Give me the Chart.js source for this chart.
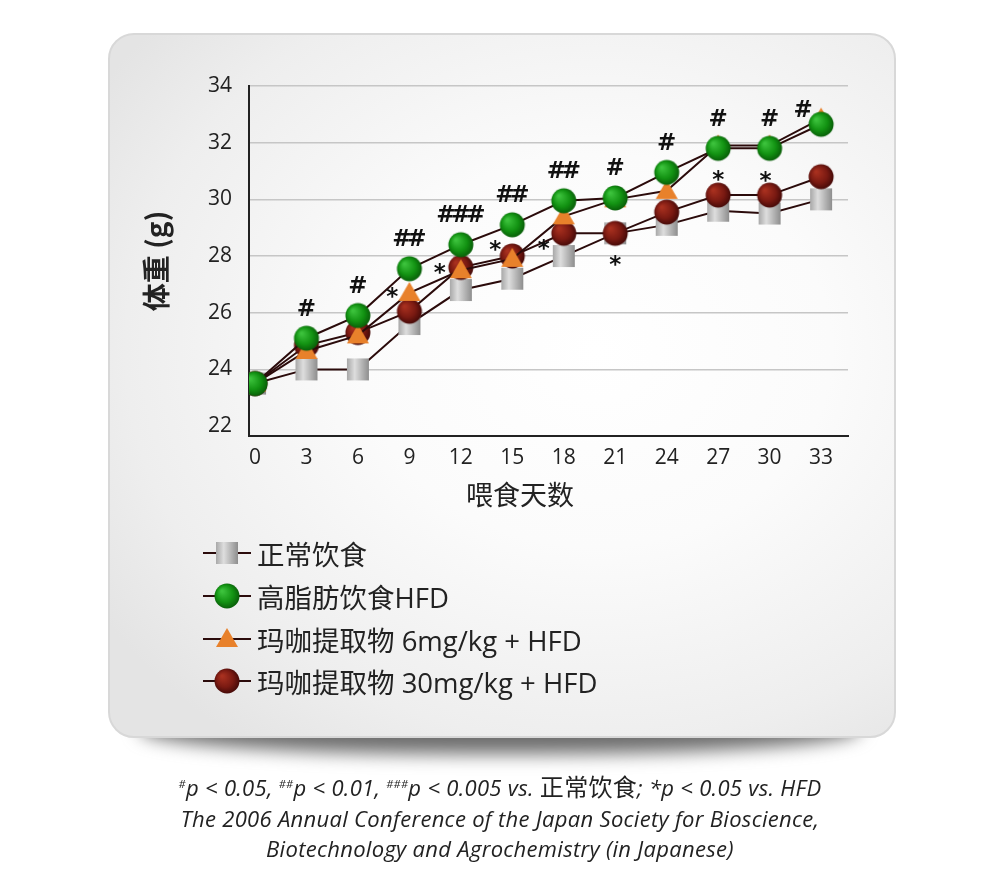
<!DOCTYPE html>
<html>
<head>
<meta charset="utf-8">
<script src="https://cdn.jsdelivr.net/npm/chart.js@4.4.1/dist/chart.umd.min.js"></script>
<style>
  html, body { margin:0; padding:0; background:#fff; width:1000px; height:891px; overflow:hidden; }
  #shadow { position:absolute; left:140px; top:700px; width:720px; height:54px; background:#6e6e6e; border-radius:45%; filter:blur(9px); }
  #card { position:absolute; left:108px; top:33px; width:784px; height:701px; border:2px solid #d8d8d8; border-radius:26px;
          background: radial-gradient(ellipse 75% 70% at 62% 45%, #ffffff 0%, #fbfbfb 40%, #eeeeee 80%, #e4e4e4 100%); }
  #wrap { position:absolute; left:0; top:0; width:1000px; height:891px; }
  #legend { position:absolute; left:203px; top:532px; font-family:"Open Sans","Noto Sans CJK SC",sans-serif; font-size:27.5px; color:#222; }
  .row { display:flex; align-items:center; height:42.7px; white-space:nowrap; }
  .row canvas { width:48px; height:28px; margin-right:6px; }
  #note { position:absolute; left:0; width:1000px; top:769px; text-align:center; font-family:"Open Sans",sans-serif; font-style:italic; font-size:22px; letter-spacing:0.3px; line-height:30.5px; color:#222; }
  #note sup { font-size:11px; vertical-align:8px; }
  #note .cjk { font-family:"Noto Sans CJK SC",sans-serif; font-style:normal; font-size:24px; }
</style>
</head>
<body>
<div id="shadow"></div>
<div id="card"></div>
<div id="wrap"><canvas id="c"></canvas></div>
<div id="legend"></div>
<div id="note">
  <div><sup>#</sup>p &lt; 0.05, <sup>##</sup>p &lt; 0.01, <sup>###</sup>p &lt; 0.005 vs. <span class="cjk">正常饮食</span>; *p &lt; 0.05 vs. HFD</div>
  <div>The 2006 Annual Conference of the Japan Society for Bioscience,</div>
  <div>Biotechnology and Agrochemistry (in Japanese)</div>
</div>
<script>
// ---------- data ----------
const days = [0, 3, 6, 9, 12, 15, 18, 21, 24, 27, 30, 33];
const xTickValues = [0, 3, 6, 9, 12, 15, 18, 21, 24, 27, 30, 33];
const yTickValues = [22, 24, 26, 28, 30, 32, 34];
const seriesNames = ['正常饮食', '高脂肪饮食HFD', '玛咖提取物 6mg/kg + HFD', '玛咖提取物 30mg/kg + HFD'];
const normalDiet = [23.5, 24.0, 24.0, 25.6, 26.8, 27.2, 28.0, 28.8, 29.1, 29.6, 29.5, 30.0];
const hfdDiet    = [23.5, 25.1, 25.9, 27.55, 28.4, 29.1, 29.95, 30.05, 30.95, 31.8, 31.8, 32.65];
const maca6      = [23.5, 24.65, 25.2, 26.7, 27.5, 27.9, 29.4, 30.0, 30.3, 31.9, 31.9, 32.85];
const maca30     = [23.5, 24.85, 25.3, 26.05, 27.6, 28.0, 28.8, 28.8, 29.55, 30.15, 30.15, 30.8];
const hashMarks  = ['', '#', '#', '##', '###', '##', '##', '#', '#', '#', '#', '#'];
const starMarks  = ['', '', '', '*', '*', '*', '*', '*', '', '*', '*', ''];
const xTitle = '喂食天数';
const yTitle = '体重 (g)';

// ---------- marker images ----------
const LINE = '#2b0b0b';
function drawMarker(ctx, kind, cx, cy) {
  ctx.save();
  if (kind === 'square') {
    const s = 22, x = cx - s/2, y = cy - s/2;
    const g = ctx.createLinearGradient(x, 0, x + s, 0);
    g.addColorStop(0, '#a8a8a8'); g.addColorStop(0.35, '#dedede'); g.addColorStop(1, '#8e8e8e');
    ctx.fillStyle = g; ctx.fillRect(x, y, s, s);
  } else if (kind === 'green' || kind === 'maroon') {
    const r = 12.5;
    const g = ctx.createRadialGradient(cx - 5, cy - 5, 1, cx, cy, r + 2);
    if (kind === 'green') { g.addColorStop(0, '#3cc23c'); g.addColorStop(0.55, '#129212'); g.addColorStop(1, '#064f06'); }
    else { g.addColorStop(0, '#a8301f'); g.addColorStop(0.55, '#7a1a12'); g.addColorStop(1, '#360505'); }
    ctx.fillStyle = g; ctx.beginPath(); ctx.arc(cx, cy, r, 0, Math.PI * 2); ctx.fill();
  } else if (kind === 'triangle') {
    ctx.fillStyle = '#e8812b';
    ctx.beginPath(); ctx.moveTo(cx, cy - 11); ctx.lineTo(cx + 11, cy + 8); ctx.lineTo(cx - 11, cy + 8); ctx.closePath(); ctx.fill();
  }
  ctx.restore();
}
function markerCanvas(kind) {
  const c = document.createElement('canvas'); c.width = 28; c.height = 28;
  drawMarker(c.getContext('2d'), kind, 14, 14);
  return c;
}
const kinds = ['square', 'green', 'triangle', 'maroon'];
const markers = kinds.map(markerCanvas);

// ---------- HTML legend ----------
const legend = document.getElementById('legend');
seriesNames.forEach((name, i) => {
  const row = document.createElement('div'); row.className = 'row';
  const c = document.createElement('canvas'); c.width = 48; c.height = 28;
  const ctx = c.getContext('2d');
  ctx.strokeStyle = LINE; ctx.lineWidth = 2;
  ctx.beginPath(); ctx.moveTo(0, 14); ctx.lineTo(48, 14); ctx.stroke();
  drawMarker(ctx, kinds[i], 24, 14);
  const s = document.createElement('span'); s.textContent = name;
  row.appendChild(c); row.appendChild(s); legend.appendChild(row);
});

// ---------- annotation plugin ----------
function drawSpaced(ctx, text, cx, y, adv) {
  const n = text.length;
  for (let k = 0; k < n; k++) ctx.fillText(text[k], cx + (k - (n - 1) / 2) * adv, y);
}
const annotate = {
  id: 'annotate',
  afterDatasetsDraw(chart) {
    const ctx = chart.ctx;
    ctx.save();
    ctx.fillStyle = '#111';
    ctx.font = 'bold 23px "DejaVu Sans", sans-serif';
    ctx.textAlign = 'center';
    ctx.textBaseline = 'alphabetic';
    const hfdMeta = chart.getDatasetMeta(1).data;
    hashMarks.forEach((m, i) => {
      if (!m) return;
      const p = hfdMeta[i];
      const last = i === hashMarks.length - 1;
      drawSpaced(ctx, m, p.x + (last ? -18 : 0), p.y + (last ? -16 : -31) + 8.5, 15);
    });
    const starOff = {3: [-17, -20], 4: [-21, 0], 5: [-17, -12], 6: [-20, 10], 7: [0, 26], 9: [0, -21], 10: [-4, -20]};
    const m30 = chart.getDatasetMeta(3).data;
    starMarks.forEach((m, i) => {
      if (!m) return;
      const p = m30[i]; const o = starOff[i] || [0, -22];
      ctx.fillText(m, p.x + o[0], p.y + o[1] + 13);
    });
    // x-axis title
    const xs = chart.scales.x;
    ctx.font = '27px "Noto Sans CJK SC", sans-serif';
    ctx.fillStyle = '#222';
    ctx.textBaseline = 'middle';
    ctx.fillText(xs.options.title.text, 520, 495);
    ctx.restore();
  }
};

// ---------- chart ----------
const mk = (label, data, idx, order) => ({
  label, data: days.map((d, i) => ({x: d, y: data[i]})),
  borderColor: LINE, borderWidth: 2, tension: 0,
  pointStyle: markers[idx], pointRadius: 12, pointHoverRadius: 12, order
});

new Chart(document.getElementById('c'), {
  type: 'line',
  data: {
    datasets: [
      mk(seriesNames[0], normalDiet, 0, 4),
      mk(seriesNames[1], hfdDiet, 1, 1),
      mk(seriesNames[2], maca6, 2, 2),
      mk(seriesNames[3], maca30, 3, 3)
    ]
  },
  options: {
    responsive: true, maintainAspectRatio: false, animation: false, events: [],
    layout: { padding: { left: 140, top: 86, right: 152, bottom: 415 } },
    plugins: { legend: { display: false }, tooltip: { enabled: false } },
    scales: {
      x: {
        type: 'linear', min: -0.35, max: 34.57,
        afterBuildTicks: (ax) => { ax.ticks = xTickValues.map(v => ({value: v})); },
        afterFit: (ax) => { ax.height = 40; },
        grid: { display: false, drawTicks: false },
        border: { display: true, color: '#222', width: 2 },
        ticks: { color: '#222', padding: 9, font: { family: '"Open Sans", sans-serif', size: 21 }, maxRotation: 0, autoSkip: false },
        title: { display: false, text: xTitle }
      },
      y: {
        min: 21.65, max: 34,
        afterBuildTicks: (ax) => { ax.ticks = yTickValues.map(v => ({value: v})); },
        afterFit: (ax) => { ax.width = 109; },
        grid: { drawTicks: false, lineWidth: 1.5, color: (c) => (c.tick && c.tick.value === 22) ? 'rgba(0,0,0,0)' : '#c6c6c6' },
        border: { display: true, color: '#222', width: 2 },
        ticks: { color: '#222', padding: 17, font: { family: '"Open Sans", sans-serif', size: 21 } },
        title: { display: true, text: yTitle, color: '#222', padding: { top: 0, bottom: 0 },
                 font: { family: '"Noto Sans CJK SC", sans-serif', size: 28, weight: 'bold' } }
      }
    }
  },
  plugins: [annotate]
});
</script>
</body>
</html>
